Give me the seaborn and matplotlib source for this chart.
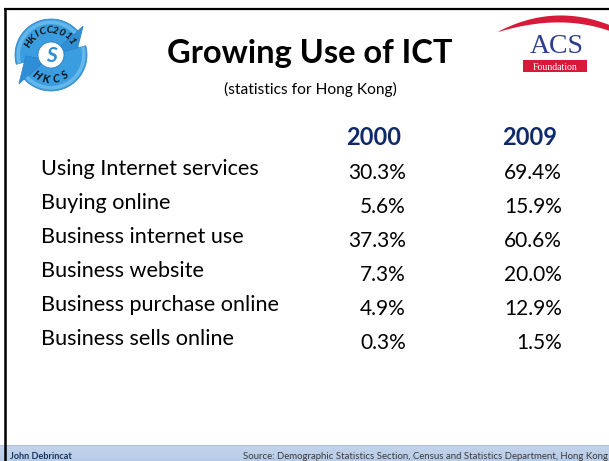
import numpy as np
import pandas as pd
import matplotlib
matplotlib.use("Agg")
import matplotlib.pyplot as plt
import seaborn as sns
from matplotlib.colors import ListedColormap, LinearSegmentedColormap
from matplotlib.patches import Polygon, Rectangle, Circle
from matplotlib import transforms

# ---------------- data ----------------
title = "Growing Use of ICT"
subtitle = "(statistics for Hong Kong)"
years = ["2000", "2009"]
indicators = [
    "Using Internet services",
    "Buying online",
    "Business internet use",
    "Business website",
    "Business purchase online",
    "Business sells online",
]
values_2000 = [30.3, 5.6, 37.3, 7.3, 4.9, 0.3]
values_2009 = [69.4, 15.9, 60.6, 20.0, 12.9, 1.5]
footer_left = "John Debrincat"
footer_right = "Source: Demographic Statistics Section, Census and Statistics Department, Hong Kong"

df = pd.DataFrame({years[0]: values_2000, years[1]: values_2009}, index=indicators)
annot = df.map(lambda v: f"{v:.1f}%")

# ---------------- style ----------------
sns.set_theme(style="white")
plt.rcParams["font.family"] = ["Lato", "DejaVu Sans"]

W, H = 609, 461
fig = plt.figure(figsize=(W / 100, H / 100), dpi=100)
fig.patch.set_facecolor("white")

# decoration layer in pixel units
deco = fig.add_axes([0, 0, 1, 1], zorder=0)
deco.set_xlim(0, W)
deco.set_ylim(H, 0)
deco.set_axis_off()

# footer band
grad = np.linspace(0, 1, 50).reshape(-1, 1)
band_cmap = LinearSegmentedColormap.from_list("band", ["#c3d4ec", "#b9cce7"])
deco.imshow(grad, extent=(0, W, H, 445), aspect="auto", cmap=band_cmap, zorder=1)
deco.plot([0, W], [445, 445], color="#aabfdf", lw=0.6, zorder=1.5)

# border lines
deco.plot([4, W], [9, 9], color="black", lw=1.6, solid_capstyle="butt", zorder=3)
deco.plot([4.5, 4.5], [8.2, H], color="black", lw=1.8, solid_capstyle="butt", zorder=3)

# title
deco.text(310, 63, title, ha="center", va="baseline", fontsize=23.5,
          fontweight="bold", color="black", zorder=4)
deco.text(310, 94, subtitle, ha="center", va="baseline", fontsize=11.2,
          color="black", zorder=4)

# footer texts
deco.text(10, 459, footer_left, ha="left", va="baseline", fontsize=6.6,
          fontweight="bold", color="#17365d", zorder=4)
deco.text(608, 459, footer_right, ha="right", va="baseline", fontsize=6.9,
          color="#3a3a3a", zorder=4)

# ---------- ACS Foundation logo ----------
xt = np.array([498, 520, 553, 590, 610])
yt = np.array([32, 21.7, 16.5, 18.3, 25.5])
yb = np.array([32, 26.7, 22.3, 25.7, 31.0])
xs = np.linspace(498, 612, 80)
ct = np.polyfit(xt, yt, 3)
cb = np.polyfit(xt, yb, 3)
top_curve = np.polyval(ct, xs)
bot_curve = np.polyval(cb, xs)
bot_curve[0] = top_curve[0]
crescent = np.vstack([np.column_stack([xs, top_curve]),
                      np.column_stack([xs[::-1], bot_curve[::-1]])])
deco.add_patch(Polygon(crescent, closed=True, facecolor="#d7193a", edgecolor="none", zorder=4))
deco.text(557, 53, "ACS", ha="center", va="baseline", fontsize=20,
          family=["Liberation Serif", "DejaVu Serif"], color="#2c3e8c", zorder=4)
deco.add_patch(Rectangle((523, 60), 64, 12.5, facecolor="#d7193a", edgecolor="none", zorder=4))
deco.text(555, 69.8, "Foundation", ha="center", va="baseline", fontsize=7,
          family=["Liberation Serif", "DejaVu Serif"], color="white", zorder=5)

# ---------- HKICC2011 logo ----------
cx, cy, half = 51, 55, 44
R = 36.0
lg = fig.add_axes([(cx - half) / W, 1 - (cy + half) / H, 2 * half / W, 2 * half / H], zorder=2)
lim = half / R
lg.set_xlim(-lim, lim)
lg.set_ylim(-lim, lim)
lg.set_axis_off()
lg.patch.set_alpha(0)

r_in, r_out = 0.36, 1.0


def arrow_shape(t_start, t_end, t_tip):
    th = np.radians(np.linspace(t_start, t_end, 60))
    outer = np.column_stack([r_out * np.cos(th), r_out * np.sin(th)])
    inner = np.column_stack([r_in * np.cos(th[::-1]), r_in * np.sin(th[::-1])])
    te = np.radians(t_end)
    tt = np.radians(t_tip)
    head = np.array([
        [(r_out + 0.20) * np.cos(te), (r_out + 0.20) * np.sin(te)],
        [0.70 * np.cos(tt), 0.70 * np.sin(tt)],
        [(r_in - 0.16) * np.cos(te), (r_in - 0.16) * np.sin(te)],
    ])
    body = np.vstack([outer, inner])
    return body, head


for (a0, a1, at) in [(195, 42, 2), (15, -138, -178)]:
    body, head = arrow_shape(a0, a1, at)
    lg.add_patch(Polygon(body, closed=True, facecolor="#3a9de0", edgecolor="#2a7fc4", lw=0.5, zorder=2))
    lg.add_patch(Polygon(head, closed=True, facecolor="#2f8fd6", edgecolor="#2a7fc4", lw=0.5, zorder=2))
    th = np.radians(np.linspace(a0, a1, 60))
    hl = np.vstack([np.column_stack([0.96 * np.cos(th), 0.96 * np.sin(th)]),
                    np.column_stack([0.86 * np.cos(th[::-1]), 0.86 * np.sin(th[::-1])])])
    lg.add_patch(Polygon(hl, closed=True, facecolor="#86cdf3", edgecolor="none", alpha=0.55, zorder=2.5))

lg.add_patch(Circle((0, 0), r_in, facecolor="white", edgecolor="#2a7fc4", lw=0.5, zorder=3))
lg.text(0, -0.02, "S", ha="center", va="center", fontsize=15, fontweight="bold",
        fontstyle="italic", color="#2f8fd6", zorder=4)

ring_top = "HKICC2011"
angs = np.linspace(152, 36, len(ring_top))
for ch, a in zip(ring_top, angs):
    t = np.radians(a)
    lg.text(0.68 * np.cos(t), 0.68 * np.sin(t), ch, rotation=a - 90, ha="center", va="center",
            fontsize=7.5, fontweight="bold", fontstyle="italic", color="#111111", zorder=4)
ring_bot = "HKCS"
angs = np.linspace(236, 304, len(ring_bot))
for ch, a in zip(ring_bot, angs):
    t = np.radians(a)
    lg.text(0.68 * np.cos(t), 0.68 * np.sin(t), ch, rotation=a + 90, ha="center", va="center",
            fontsize=8, fontweight="bold", fontstyle="italic", color="#111111", zorder=4)

# ---------- table ----------
cell_w, cell_h = 156, 34
first_base = 179
left_px = 406 - cell_w / 2
top_px = first_base - cell_h / 2
n = len(indicators)
ax = fig.add_axes([left_px / W, 1 - (top_px + n * cell_h) / H,
                   2 * cell_w / W, n * cell_h / H], zorder=3)
clear = ListedColormap([(1, 1, 1, 0)])
sns.heatmap(df, ax=ax, cmap=clear, vmin=0, vmax=100, cbar=False,
            annot=annot, fmt="", xticklabels=False, yticklabels=False,
            annot_kws=dict(ha="right", va="baseline", fontsize=15, color="black"))
ax.patch.set_alpha(0)
for s in ax.spines.values():
    s.set_visible(False)

for j, yr in enumerate(years):
    ax.text(j + 0.29, -0.5, yr, ha="center", va="baseline", fontsize=17,
            fontweight="bold", color="#0f2a6b", clip_on=False)

lab_trans = transforms.blended_transform_factory(fig.transFigure, ax.transData) + \
    transforms.ScaledTranslation(0, 4 / 100, fig.dpi_scale_trans)
for i, lab in enumerate(indicators):
    ax.text(41 / W, i + 0.5, lab, transform=lab_trans, ha="left", va="baseline",
            fontsize=15.6, color="black", clip_on=False)

fig.savefig("out.png", dpi=100)
